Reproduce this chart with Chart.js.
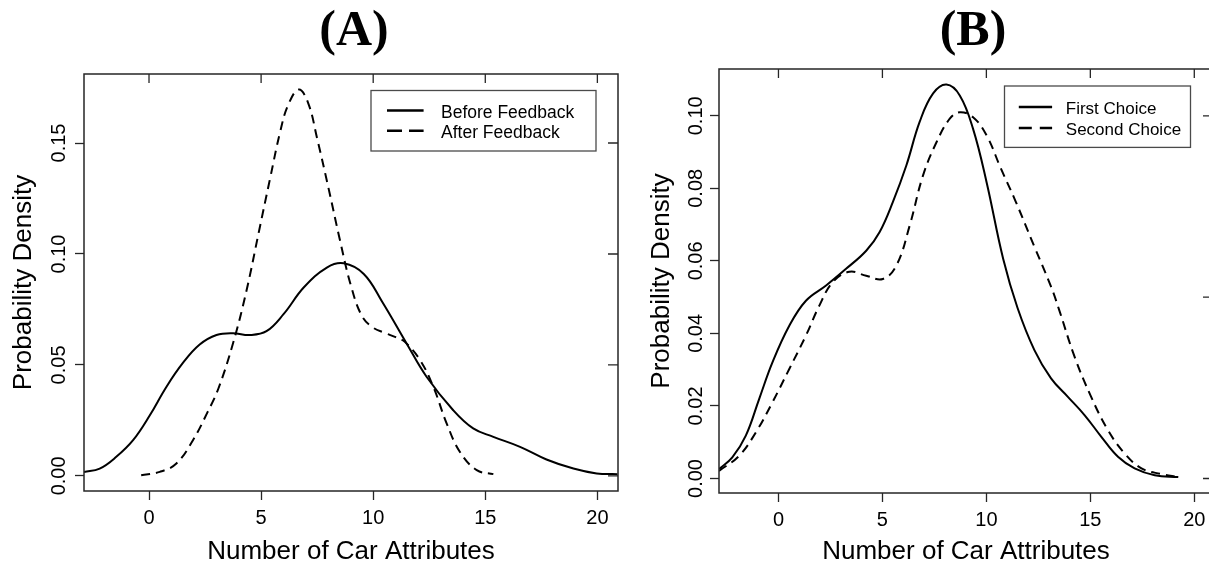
<!DOCTYPE html>
<html>
<head>
<meta charset="utf-8">
<title>Number of Car Attributes – density plots</title>
<script src="https://cdn.jsdelivr.net/npm/chart.js@4.4.1/dist/chart.umd.min.js"></script>
<style>
  html, body { margin: 0; padding: 0; background: #fff; overflow: hidden; width: 1209px; height: 567px; }
  canvas { position: absolute; top: 0; }
  #panelA { left: 0; }
  #panelB { left: 620px; }
</style>
</head>
<body>
<canvas id="panelA" width="640" height="567"></canvas>
<canvas id="panelB" width="620" height="567"></canvas>
<script>
// ---- Panel A: density of attribute counts before and after feedback ----
const beforeX = [-2.9, -2.2, -1.46, -0.71, 0.03, 0.78, 1.52, 2.26, 3.01, 3.75, 4.5, 5.24, 6.01, 6.91, 7.95, 8.69, 9.58, 10.4, 11.49, 12.38, 13.57, 14.46, 15.36, 16.55, 17.73, 18.93, 19.97, 20.9];
const beforeY = [0.0018, 0.0033, 0.0086, 0.0161, 0.0272, 0.0402, 0.0510, 0.0592, 0.0635, 0.0643, 0.0635, 0.0652, 0.0730, 0.0850, 0.0940, 0.0958, 0.0910, 0.0785, 0.0597, 0.0447, 0.0296, 0.0214, 0.0176, 0.0131, 0.0074, 0.0033, 0.0011, 0.0008];

const afterX = [-0.35, 0.48, 1.22, 1.96, 2.6, 3.1, 3.78, 4.36, 4.88, 5.40, 5.85, 6.20, 6.68, 7.10, 7.50, 8.00, 8.50, 9.00, 9.50, 10.0, 10.5, 11.0, 11.4, 12.09, 12.68, 13.28, 13.87, 14.62, 15.36];
const afterY = [0.0003, 0.0018, 0.0056, 0.0161, 0.0285, 0.0395, 0.0609, 0.0840, 0.1090, 0.1340, 0.1550, 0.1670, 0.1741, 0.1680, 0.1520, 0.1300, 0.1070, 0.0860, 0.0720, 0.0668, 0.0645, 0.0625, 0.0605, 0.0522, 0.0402, 0.0236, 0.0108, 0.0026, 0.0008];

// ---- Panel B: density of attribute counts for first and second choice ----
const firstX = [-2.86, -2.22, -1.57, -0.93, -0.29, 0.52, 1.32, 2.29, 3.25, 4.22, 4.86, 5.50, 6.15, 6.79, 7.43, 8.08, 8.72, 9.36, 10.01, 10.81, 11.5, 12.31, 13.11, 13.92, 14.72, 15.53, 16.33, 17.13, 18.10, 19.23];
const firstY = [0.0026, 0.0058, 0.0118, 0.0219, 0.0320, 0.0421, 0.0490, 0.0532, 0.0578, 0.0628, 0.0679, 0.0762, 0.0863, 0.0983, 0.1061, 0.1086, 0.1056, 0.0964, 0.0817, 0.0605, 0.0470, 0.0354, 0.0276, 0.0225, 0.0175, 0.0115, 0.0060, 0.0028, 0.0009, 0.0004];

const secondX = [-2.86, -1.90, -1.09, -0.29, 0.52, 1.32, 1.96, 2.61, 3.41, 4.22, 5.02, 5.67, 6.31, 6.95, 7.60, 8.24, 8.72, 9.36, 10.01, 10.68, 11.4, 12.31, 13.11, 13.5, 14.24, 15.04, 15.85, 16.65, 17.46, 18.42, 19.23];
const secondY = [0.0021, 0.0062, 0.0127, 0.0210, 0.0302, 0.0394, 0.0476, 0.0541, 0.0570, 0.0559, 0.0550, 0.0587, 0.0697, 0.0835, 0.0927, 0.0992, 0.1010, 0.0996, 0.0946, 0.0857, 0.0765, 0.0639, 0.0529, 0.0465, 0.0336, 0.0225, 0.0133, 0.0069, 0.0028, 0.0012, 0.0004];

// ---- Axis ticks ----
const xTicks = [0, 5, 10, 15, 20];
const xTickLabels = ['0', '5', '10', '15', '20'];
const yTicksA = [0, 0.05, 0.10, 0.15];
const yTickLabelsA = ['0.00', '0.05', '0.10', '0.15'];
const yTicksB = [0, 0.02, 0.04, 0.06, 0.08, 0.10];
const yTickLabelsB = ['0.00', '0.02', '0.04', '0.06', '0.08', '0.10'];
const rightTicksA = [0, 0.05, 0.10, 0.15];
const rightTicksB = [0, 0.05, 0.10];

const SANS = '"Liberation Sans", Arial, Helvetica, sans-serif';
const SERIF = '"Liberation Serif", "Times New Roman", serif';
const INK = '#000';
const FRAME = '#262626';

// Draws the full box, inward ticks on top/right, rotated y tick labels,
// the panel letter and the boxed legend.
const framePlugin = {
  id: 'frame',
  afterDraw(chart, args, o) {
    const { ctx, chartArea: a, scales: { x, y } } = chart;
    ctx.save();

    ctx.strokeStyle = FRAME;
    ctx.lineWidth = 1.5;
    ctx.strokeRect(a.left, a.top, a.right - a.left, a.bottom - a.top);

    ctx.beginPath();
    o.topTicks.forEach(v => {
      const px = x.getPixelForValue(v);
      ctx.moveTo(px, a.top); ctx.lineTo(px, a.top + 9);
    });
    o.rightTicks.forEach(v => {
      const py = y.getPixelForValue(v);
      ctx.moveTo(a.right, py); ctx.lineTo(a.right - 10, py);
    });
    ctx.lineWidth = 1.3;
    ctx.stroke();

    // rotated y tick labels
    ctx.fillStyle = INK;
    ctx.font = '20px ' + SANS;
    ctx.textAlign = 'center';
    ctx.textBaseline = 'alphabetic';
    y.ticks.forEach(t => {
      const i = o.yValues.indexOf(t.value);
      if (i < 0) return;
      ctx.save();
      ctx.translate(a.left - o.yLabelGap, y.getPixelForValue(t.value));
      ctx.rotate(-Math.PI / 2);
      ctx.fillText(o.yLabels[i], 0, 0);
      ctx.restore();
    });

    // panel letter
    ctx.font = 'bold ' + o.titleSize + 'px ' + SERIF;
    ctx.textAlign = 'center';
    ctx.fillText(o.title, o.titleX, o.titleBaseline);

    // legend
    const lg = o.legend;
    const bx = a.right - lg.rightInset - lg.width;
    const by = a.top + lg.topInset;
    ctx.strokeStyle = '#4a4a4a';
    ctx.lineWidth = 1.3;
    ctx.strokeRect(bx, by, lg.width, lg.height);
    ctx.font = lg.fontSize + 'px ' + SANS;
    ctx.textAlign = 'left';
    chart.data.datasets.forEach((ds, i) => {
      const ry = by + lg.rows[i];
      ctx.beginPath();
      ctx.setLineDash(ds.borderDash && ds.borderDash.length ? lg.dash : []);
      ctx.strokeStyle = INK;
      ctx.lineWidth = 2.6;
      ctx.moveTo(bx + lg.lineInset, ry);
      ctx.lineTo(bx + lg.lineInset + lg.lineLen, ry);
      ctx.stroke();
      ctx.setLineDash([]);
      ctx.fillStyle = INK;
      ctx.fillText(ds.label, bx + lg.textInset, ry + 7);
    });

    ctx.restore();
  }
};

function series(label, xs, ys, dashed) {
  return {
    label,
    data: xs.map((v, i) => ({ x: v, y: ys[i] })),
    borderColor: INK,
    borderWidth: 2,
    borderDash: dashed ? [9, 6] : [],
    pointRadius: 0,
    fill: false,
    tension: 0.4
  };
}

function panel(id, p) {
  return new Chart(document.getElementById(id), {
    type: 'line',
    data: { datasets: p.datasets },
    options: {
      responsive: false,
      maintainAspectRatio: false,
      animation: false,
      devicePixelRatio: 1,
      layout: { padding: p.padding },
      plugins: {
        legend: { display: false },
        tooltip: { enabled: false },
        frame: p.frame
      },
      scales: {
        x: {
          type: 'linear',
          min: p.xMin, max: p.xMax,
          afterBuildTicks: s => { s.ticks = xTicks.map(v => ({ value: v })); },
          afterFit: s => { s.height = p.xAxisHeight; },
          border: { display: false },
          grid: { drawOnChartArea: false, drawTicks: true, tickLength: 9, tickColor: FRAME, tickWidth: 1.3 },
          ticks: {
            color: INK, padding: 6, maxRotation: 0, autoSkip: false,
            font: { family: SANS, size: 20 },
            callback: v => xTickLabels[xTicks.indexOf(v)]
          },
          title: {
            display: true, text: 'Number of Car Attributes', color: INK,
            font: { family: SANS, size: 26 }, padding: { top: 0, bottom: 0 }
          }
        },
        y: {
          type: 'linear',
          min: p.yMin, max: p.yMax,
          afterBuildTicks: s => { s.ticks = p.yValues.map(v => ({ value: v })); },
          afterFit: s => { s.width = p.yAxisWidth; },
          border: { display: false },
          grid: { drawOnChartArea: false, drawTicks: true, tickLength: 9, tickColor: FRAME, tickWidth: 1.3 },
          ticks: { display: false },
          title: {
            display: true, text: 'Probability Density', color: INK,
            font: { family: SANS, size: 26 }, padding: { top: p.yTitlePad, bottom: 0 }
          }
        }
      }
    },
    plugins: [framePlugin]
  });
}

panel('panelA', {
  datasets: [
    series('Before Feedback', beforeX, beforeY, false),
    series('After Feedback', afterX, afterY, true)
  ],
  xMin: -2.9, xMax: 20.92,
  yMin: -0.0068, yMax: 0.1811,
  yValues: yTicksA,
  padding: { left: 0, top: 74, right: 22, bottom: 0 },
  xAxisHeight: 76,
  yAxisWidth: 84,
  yTitlePad: 8,
  frame: {
    topTicks: xTicks, rightTicks: rightTicksA,
    yValues: yTicksA, yLabels: yTickLabelsA, yLabelGap: 19,
    title: '(A)', titleX: 354, titleBaseline: 45, titleSize: 50,
    legend: { rightInset: 22, topInset: 16.5, width: 225, height: 60.5, rows: [20, 40.3],
              lineInset: 16, lineLen: 36.6, textInset: 70, fontSize: 17.5, dash: [15, 7] }
  }
});

panel('panelB', {
  datasets: [
    series('First Choice', firstX, firstY, false),
    series('Second Choice', secondX, secondY, true)
  ],
  xMin: -2.86, xMax: 20.9,
  yMin: -0.004, yMax: 0.1129,
  yValues: yTicksB,
  padding: { left: 0, top: 69, right: 27, bottom: 0 },
  xAxisHeight: 74,
  yAxisWidth: 99,
  yTitlePad: 26,
  frame: {
    topTicks: xTicks, rightTicks: rightTicksB,
    yValues: yTicksB, yLabels: yTickLabelsB, yLabelGap: 17.5,
    title: '(B)', titleX: 353, titleBaseline: 45, titleSize: 50,
    legend: { rightInset: 22.5, topInset: 17, width: 186, height: 61.4, rows: [21, 42],
              lineInset: 14.3, lineLen: 33.3, textInset: 61.3, fontSize: 17, dash: [13, 8] }
  }
});
</script>
</body>
</html>
